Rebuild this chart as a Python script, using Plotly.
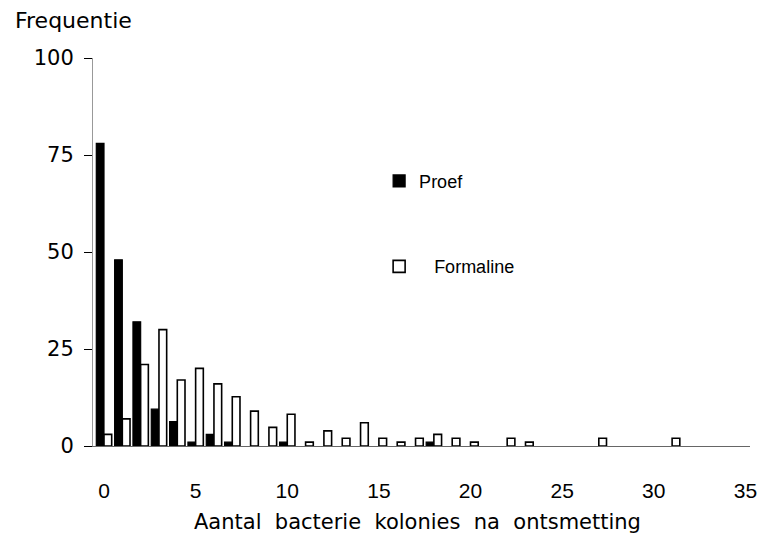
import plotly.graph_objects as go

# Data
kolonies = list(range(0, 32))
proef = [78, 48, 32, 9.5, 6.3, 1, 3, 1, None, None, 1, None, None, None, None, None,
         None, None, 1, None, None, None, None, None, None, None, None, None, None, None,
         None, None]
formaline = [3, 7, 21, 30, 17, 20, 16, 12.7, 9, 4.8, 8.2, 1, 3.9, 2, 6, 2,
             1, 2, 3, 2, 1, None, 2, 1, None, None, None, 2, None, None,
             None, 2]
x_ticks = [0, 5, 10, 15, 20, 25, 30, 35]
y_ticks = [0, 25, 50, 75, 100]

fig = go.Figure()
fig.add_trace(go.Bar(x=kolonies, y=proef, name="Proef", legendgroup="a",
                     marker=dict(color="black", line=dict(color="black", width=1.2))))
fig.add_trace(go.Bar(x=kolonies, y=formaline, name="\u00a0\u00a0\u00a0Formaline", legendgroup="b",
                     marker=dict(color="white", line=dict(color="black", width=1.6))))

# page body has an 8px margin, so the figure is drawn 8px right/down
fig.update_layout(
    width=759, height=529,
    margin=dict(l=85, r=10, t=50, b=91),
    paper_bgcolor="white", plot_bgcolor="white",
    barmode="group", bargap=0.16, bargroupgap=0,
    font=dict(family="Liberation Sans, Arial", color="black"),
    showlegend=True,
    legend=dict(x=0.4355, y=0.73, xanchor="left", yanchor="top",
                tracegroupgap=59, bgcolor="rgba(0,0,0,0)",
                font=dict(family="Liberation Sans, Arial", size=18)),
    xaxis=dict(range=[-0.6, 35.25], tickmode="array", tickvals=x_ticks,
               ticktext=[str(v) for v in x_ticks],
               showline=True, linecolor="#666", linewidth=1, ticks="",
               showgrid=False, zeroline=False, ticklabelstandoff=26,
               tickfont=dict(family="Liberation Sans, Arial", size=21)),
    yaxis=dict(range=[0, 100], tickmode="array", tickvals=y_ticks,
               showline=True, linecolor="#999", linewidth=1,
               ticks="outside", ticklen=8, tickcolor="black", tickwidth=1,
               showgrid=False, zeroline=False, ticklabelstandoff=6,
               tickfont=dict(family="DejaVu Sans, Arial", size=21)),
    annotations=[
        dict(text="Frequentie", xref="paper", yref="paper", x=(12 - 93) / 664,
             y=(446 - 21) / 388, xanchor="left", yanchor="middle", showarrow=False,
             font=dict(family="DejaVu Sans, Arial", size=22)),
        dict(text="Aantal\u00a0 bacterie\u00a0 kolonies\u00a0 na\u00a0 ontsmetting",
             xref="paper", yref="paper", x=(421 - 93) / 664, y=(446 - 522) / 388,
             xanchor="center", yanchor="middle", showarrow=False,
             font=dict(family="DejaVu Sans, Arial", size=21)),
    ],
)

fig.write_html("out.html")
